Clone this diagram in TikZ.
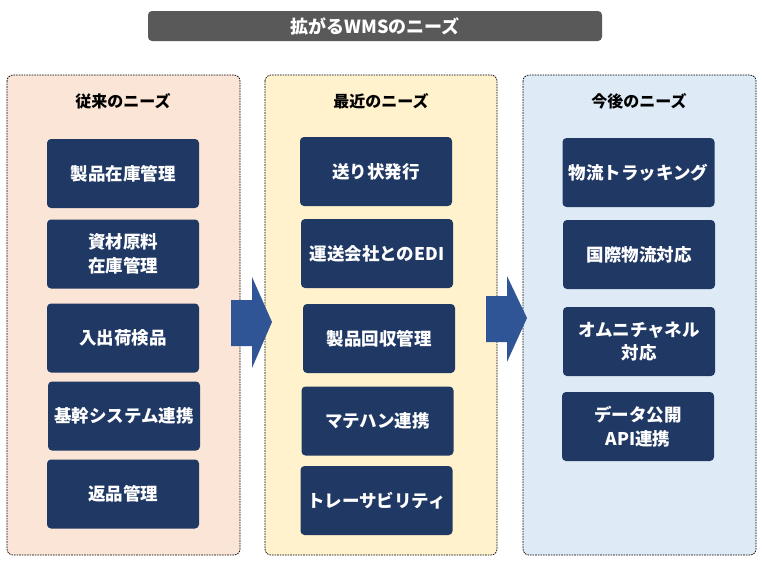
\documentclass[tikz,border=0pt]{standalone}
\usepackage{fontspec}
\setmainfont{Noto Sans CJK JP}
\definecolor{navy}{HTML}{203864}
\definecolor{arrowblue}{HTML}{2F5597}
\definecolor{titlegray}{HTML}{595959}
\definecolor{peach}{HTML}{FBE5D6}
\definecolor{cream}{HTML}{FFF2CC}
\definecolor{paleblue}{HTML}{DEEBF7}
\tikzset{
  panel/.style={draw=black, line width=0.7pt, dash pattern=on 1.6pt off 1pt, rounded corners=6pt},
  needbox/.style={fill=navy, rounded corners=4pt, text=white, minimum width=152pt, minimum height=69pt, inner sep=0pt, align=center, font=\fontsize{17.5}{23.5}\selectfont\bfseries},
  paneltitle/.style={font=\fontsize{16}{18}\selectfont\bfseries, text=black, inner sep=0pt},
  bigarrow/.style={fill=arrowblue, draw=none}
}
\begin{document}
\begin{tikzpicture}[x=1pt,y=-1pt]
\useasboundingbox (0,0) rectangle (762,562);
\fill[white] (0,0) rectangle (762,562);
% title
\node[fill=titlegray, rounded corners=4pt, minimum width=454pt, minimum height=30pt, inner sep=0pt, text=white, font=\fontsize{18}{20}\selectfont\bfseries] (title) at (375,26) {拡がるWMSのニーズ};
% panels
\draw[panel, fill=peach] (7,75) rectangle (240,555);
\draw[panel, fill=cream] (265,75) rectangle (497,555);
\draw[panel, fill=paleblue] (523,75) rectangle (756,555);
\node[paneltitle] (t1) at (123,101) {従来のニーズ};
\node[paneltitle] (t2) at (381,101) {最近のニーズ};
\node[paneltitle] (t3) at (639,101) {今後のニーズ};
% left column
\node[needbox] (a1) at (123,173.5) {製品在庫管理};
\node[needbox] (a2) at (123,254) {資材原料\\在庫管理};
\node[needbox] (a3) at (123,338) {入出荷検品};
\node[needbox] (a4) at (124,416) {基幹システム連携};
\node[needbox] (a5) at (123,494) {返品管理};
% middle column
\node[needbox] (b1) at (376,171.5) {送り状発行};
\node[needbox] (b2) at (377,253.5) {運送会社とのEDI};
\node[needbox] (b3) at (379,338.5) {製品回収管理};
\node[needbox] (b4) at (377.5,421) {マテハン連携};
\node[needbox] (b5) at (376.5,500.5) {トレーサビリティ};
% right column
\node[needbox] (c1) at (638.5,172.5) {物流トラッキング};
\node[needbox] (c2) at (639,254.5) {国際物流対応};
\node[needbox] (c3) at (639,341.5) {オムニチャネル\\対応};
\node[needbox] (c4) at (638,426.5) {データ公開\\API連携};
% arrows
\fill[bigarrow] (231,300) -- (252,300) -- (252,277) -- (272,322) -- (252,368) -- (252,346) -- (231,346) -- cycle;
\fill[bigarrow] (486,296) -- (507,296) -- (507,276) -- (527,318) -- (507,362) -- (507,342) -- (486,342) -- cycle;
\end{tikzpicture}
\end{document}
